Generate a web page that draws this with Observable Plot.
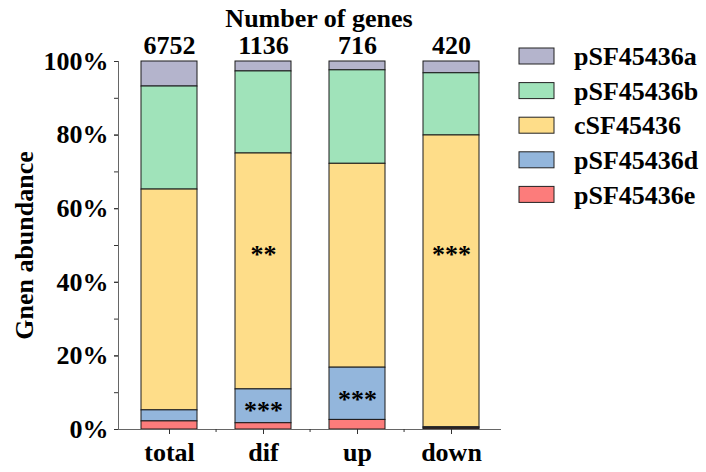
<!DOCTYPE html>
<html><head><meta charset="utf-8">
<script src="https://cdn.jsdelivr.net/npm/d3@7"></script>
<script src="https://cdn.jsdelivr.net/npm/@observablehq/plot@0.6"></script>
<style>
body{margin:0;background:#fff;}
#chart{width:706px;height:472px;}
svg text{font-family:"Liberation Serif","Times New Roman",serif;font-weight:bold;}
</style></head><body><div id="chart"></div>
<script>
const groups = ["total", "dif", "up", "down"];
const geneCounts = [6752, 1136, 716, 420];
// legend order, top to bottom
const seriesNames = ["pSF45436a", "pSF45436b", "cSF45436", "pSF45436d", "pSF45436e"];
const seriesColors = ["#b4b4cc", "#a0e3ba", "#fedd89", "#93b6dc", "#fc7c7b"];
// percentages per group (total, dif, up, down)
const pSF45436a = [6.8, 2.7, 2.4, 3.2];
const pSF45436b = [28.0, 22.3, 25.4, 16.9];
const cSF45436 = [60.0, 64.1, 55.4, 79.3];
const pSF45436d = [3.0, 9.2, 14.2, 0.3];
const pSF45436e = [2.2, 1.7, 2.6, 0.3];
const sigGroups = ["dif", "down", "dif", "up"];
const sigLevels = [48.8, 48.8, 6.4, 9.6];
const sigLabels = ["**", "***", "***", "***"];
const yTicks = [0, 20, 40, 60, 80, 100];
const yMinorTicks = [0, 10, 20, 30, 40, 50, 60, 70, 80, 90, 100];
const title = "Number of genes";
const yLabel = "Gnen abundance";

const seriesValues = [pSF45436a, pSF45436b, cSF45436, pSF45436d, pSF45436e];
const rows = [];
seriesNames.forEach((s, si) => groups.forEach((g, gi) => rows.push({group: g, series: s, value: seriesValues[si][gi]})));
const stackOrder = seriesNames.slice().reverse();
const countData = groups.map((g, i) => ({group: g, count: String(geneCounts[i])}));
const sigData = sigGroups.map((g, i) => ({group: g, level: sigLevels[i], label: sigLabels[i]}));

const W = 706, H = 472, mL = 118, mR = 206, mT = 61, mB = 43, inset = 2.5;
const step = (W - mL - mR - inset) / groups.length;
const font = '"Liberation Serif","Times New Roman",serif';

const chart = Plot.plot({
  width: W, height: H, marginLeft: mL, marginRight: mR, marginTop: mT, marginBottom: mB,
  style: {fontFamily: font, fontSize: "26px", fontWeight: "bold", color: "#000", background: "#fff"},
  x: {domain: groups, paddingInner: 0.4, paddingOuter: 0.2, insetLeft: inset, label: null},
  y: {domain: [0, 100], label: null},
  color: {domain: seriesNames, range: seriesColors},
  marks: [
    Plot.barY(rows, Plot.stackY({order: stackOrder}, {x: "group", y: "value", fill: "series", stroke: "#1a1a1a", strokeWidth: 1})),
    Plot.frame({anchor: "left", stroke: "#666"}),
    Plot.frame({anchor: "bottom", stroke: "#666"}),
    Plot.axisY(yMinorTicks, {tickSize: 4, tickFormat: () => "", stroke: "#333"}),
    Plot.axisY(yTicks, {tickSize: 4, tickPadding: 6, tickFormat: d => d + "%", fontSize: 26, stroke: "#333"}),
    Plot.axisX(groups, {tickSize: 5, tickPadding: 8, fontSize: 26, stroke: "#333"}),
    Plot.axisX(groups.slice(1), {tickSize: 3, tickFormat: () => "", dx: -step / 2, stroke: "#333"}),
    Plot.text(countData, {x: "group", y: () => 100, text: "count", lineAnchor: "bottom", dy: -8, fontSize: 26}),
    Plot.text(sigData, {x: "group", y: "level", text: "label", fontSize: 26, dy: 5}),
    Plot.text([title], {frameAnchor: "top", textAnchor: "middle", dx: 9.5, dy: -53, fontSize: 26}),
    Plot.text([yLabel], {frameAnchor: "left", textAnchor: "middle", rotate: -90, dx: -94, fontSize: 26})
  ]
});

const svg = d3.select(chart);
const lg = svg.append("g").attr("aria-label", "legend").attr("text-anchor", "start");
seriesNames.forEach((s, i) => {
  const y0 = 48 + i * 34.6;
  lg.append("rect").attr("x", 519).attr("y", y0).attr("width", 35).attr("height", 16)
    .attr("fill", seriesColors[i]).attr("stroke", "#222").attr("stroke-width", 1);
  lg.append("text").attr("x", 574).attr("y", y0 + 8).attr("dy", "0.35em")
    .attr("text-anchor", "start")
    .attr("font-size", 26).attr("font-weight", "bold").text(s);
});

document.getElementById("chart").append(chart);
</script></body></html>
